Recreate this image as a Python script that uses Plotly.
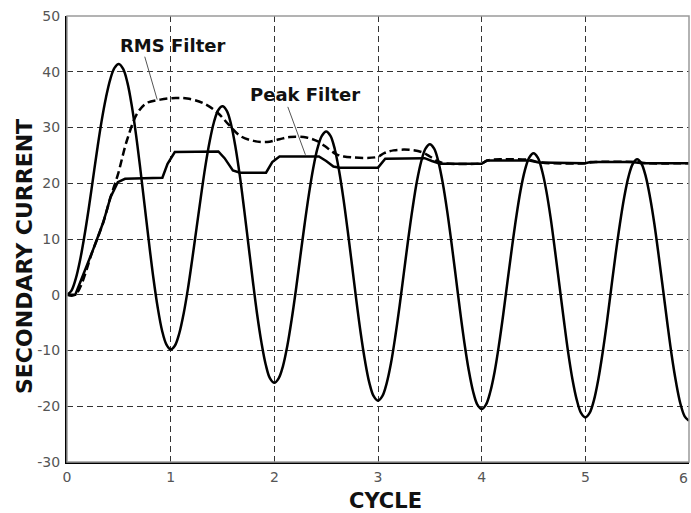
import plotly.graph_objects as go

# ---- data ----
_f = [0.0, 0.0417, 0.0833, 0.125, 0.1667, 0.2083, 0.25, 0.2917, 0.3333, 0.375, 0.4167, 0.4583,
      0.5, 0.5417, 0.5833, 0.625, 0.6667, 0.7083, 0.75, 0.7917, 0.8333, 0.875, 0.9167, 0.9583]
cycle_cur = [c + f for c in [0, 1, 2, 3, 4, 5] for f in _f] + [6.0]
secondary_current = [
    # cycle 0-1
    0, 0.7, 2.8, 6.1, 10.4, 15.3, 20.7, 26.1, 31.1, 35.3, 38.6, 40.7,
    41.4, 40.5, 38.0, 33.9, 28.6, 22.4, 15.8, 9.2, 3.0, -2.3, -6.4, -8.9,
    # cycle 1-2
    -9.8, -9.1, -6.9, -3.4, 1.1, 6.4, 12.0, 17.6, 22.9, 27.4, 30.9, 33.1,
    33.8, 33.0, 30.5, 26.5, 21.4, 15.4, 9.0, 2.6, -3.4, -8.5, -12.5, -15.0,
    # cycle 2-3
    -15.8, -15.0, -12.8, -9.2, -4.5, 0.9, 6.8, 12.6, 18.0, 22.7, 26.3, 28.5,
    29.3, 28.5, 26.1, 22.2, 17.2, 11.4, 5.2, -1.1, -6.9, -11.9, -15.8, -18.2,
    # cycle 3-4
    -19.0, -18.2, -15.9, -12.3, -7.5, -2.0, 4.0, 10.0, 15.5, 20.3, 23.9, 26.2,
    27.0, 26.2, 23.8, 20.0, 15.1, 9.4, 3.3, -2.9, -8.6, -13.5, -17.3, -19.7,
    # cycle 4-5
    -20.5, -19.7, -17.4, -13.8, -9.0, -3.5, 2.5, 8.4, 13.9, 18.7, 22.3, 24.6,
    25.4, 24.6, 22.2, 18.5, 13.6, 7.8, 1.7, -4.4, -10.2, -15.1, -18.8, -21.2,
    # cycle 5-6
    -22.0, -21.2, -18.9, -15.2, -10.4, -4.9, 1.2, 7.2, 12.7, 17.5, 21.2, 23.5,
    24.3, 23.5, 21.2, 17.4, 12.6, 6.9, 0.9, -5.2, -10.9, -15.7, -19.5, -21.8,
    -22.6]

cycle_peak = [0, 0.08, 0.25, 0.35, 0.42, 0.49, 0.56, 0.92, 0.97, 1.04,
              1.46, 1.52, 1.60, 1.67, 1.92, 1.98, 2.05, 2.43, 2.50, 2.57,
              2.63, 3.00, 3.07, 3.45, 3.52, 3.60, 4.00, 4.05, 4.45, 4.55,
              5.00, 5.05, 5.45, 5.55, 6.0]
peak_filter = [0, 0, 8.0, 13.0, 17.5, 20.2, 20.8, 21.0, 23.5, 25.6,
               25.7, 24.5, 22.3, 21.9, 21.9, 23.8, 24.8, 24.8, 24.0, 23.0,
               22.8, 22.8, 24.4, 24.5, 24.0, 23.5, 23.5, 24.1, 24.1, 23.7,
               23.6, 23.8, 23.8, 23.6, 23.6]

cycle_rms = [0, 0.08, 0.25, 0.35, 0.42, 0.49, 0.58, 0.68, 0.77, 0.90,
             1.05, 1.16, 1.31, 1.45, 1.56, 1.67, 1.80, 1.93, 2.05, 2.15,
             2.31, 2.42, 2.52, 2.60, 2.67, 2.99, 3.06, 3.15, 3.30, 3.42,
             3.50, 3.58, 3.64, 4.00, 4.06, 4.20, 4.45, 4.55, 4.65, 5.00,
             5.10, 5.50, 5.60, 6.0]
rms_filter = [0, 0, 8.0, 13.0, 17.5, 21.5, 27.8, 32.6, 34.4, 35.0,
              35.3, 35.2, 34.4, 32.7, 30.5, 28.5, 27.6, 27.4, 27.9, 28.3,
              28.2, 27.5, 26.2, 25.2, 24.8, 24.7, 25.4, 25.9, 26.0, 25.6,
              24.8, 23.9, 23.6, 23.6, 24.1, 24.3, 24.2, 23.8, 23.6, 23.6,
              23.8, 23.8, 23.6, 23.6]

x_ticks = [0, 1, 2, 3, 4, 5, 6]
y_ticks = [-30, -20, -10, 0, 10, 20, 30, 40, 50]

tick_font = dict(family="DejaVu Sans", size=14, color="#555")

fig = go.Figure()
fig.add_trace(go.Scatter(x=cycle_rms, y=rms_filter, mode="lines",
                         line=dict(color="black", width=2.5, dash="8px,4px", shape="spline"),
                         showlegend=False))
fig.add_trace(go.Scatter(x=cycle_peak, y=peak_filter, mode="lines",
                         line=dict(color="black", width=2.5),
                         showlegend=False))
fig.add_trace(go.Scatter(x=cycle_cur, y=secondary_current, mode="lines",
                         line=dict(color="black", width=2.5, shape="spline"),
                         showlegend=False))

# plot border (top/right grey)
fig.add_shape(type="rect", xref="paper", yref="paper", x0=0, y0=0, x1=1, y1=1,
              line=dict(color="#9a9a9a", width=1.5), layer="above")

# leader lines
fig.add_shape(type="line", x0=0.75, y0=42.7, x1=0.87, y1=35.0,
              line=dict(color="#555", width=1))
fig.add_shape(type="line", x0=2.13, y0=33.7, x1=2.30, y1=25.1,
              line=dict(color="#555", width=1))

fig.add_annotation(x=1.02, y=44.7, text="<b>RMS Filter</b>", showarrow=False,
                   font=dict(family="DejaVu Sans", size=18, color="#111"),
                   xanchor="center", yanchor="middle")
fig.add_annotation(x=2.30, y=36.0, text="<b>Peak Filter</b>", showarrow=False,
                   font=dict(family="DejaVu Sans", size=18, color="#111"),
                   xanchor="center", yanchor="middle")

# last x tick label (kept inside the page)
fig.add_annotation(x=x_ticks[-1], xref="x", yref="paper", y=(462 - 478) / 446,
                   text=str(x_ticks[-1]), showarrow=False, font=tick_font,
                   xanchor="right", yanchor="middle", borderpad=0)

# axis titles
fig.add_annotation(xref="paper", yref="paper", x=(385 - 67) / 622, y=(462 - 501) / 446,
                   text="<b>CYCLE</b>", showarrow=False,
                   font=dict(family="DejaVu Sans", size=21, color="#111"),
                   xanchor="center", yanchor="middle")
fig.add_annotation(xref="paper", yref="paper", x=(24 - 67) / 622, y=(462 - 257) / 446,
                   text="<b>SECONDARY CURRENT</b>", showarrow=False, textangle=-90,
                   font=dict(family="DejaVu Sans", size=22, color="#111"),
                   xanchor="center", yanchor="middle")

grid_dash = "6px,4px"
fig.update_xaxes(range=[0, 6], tickvals=x_ticks, ticktext=[str(v) for v in x_ticks],
                 showgrid=True, gridcolor="#333", gridwidth=1, griddash=grid_dash,
                 showline=True, linecolor="black", linewidth=2, zeroline=False,
                 ticks="", tickfont=tick_font, ticklabelstandoff=1)
fig.update_yaxes(range=[-30, 50], tickvals=y_ticks, ticktext=[str(v) for v in y_ticks],
                 showgrid=True, gridcolor="#333", gridwidth=1, griddash=grid_dash,
                 showline=True, linecolor="black", linewidth=2, zeroline=False,
                 ticks="", tickfont=tick_font, ticklabelstandoff=2)

fig.update_layout(width=691, height=513,
                  margin=dict(l=67, r=2, t=16, b=51),
                  plot_bgcolor="white", paper_bgcolor="white")

fig.write_html("out.html")
